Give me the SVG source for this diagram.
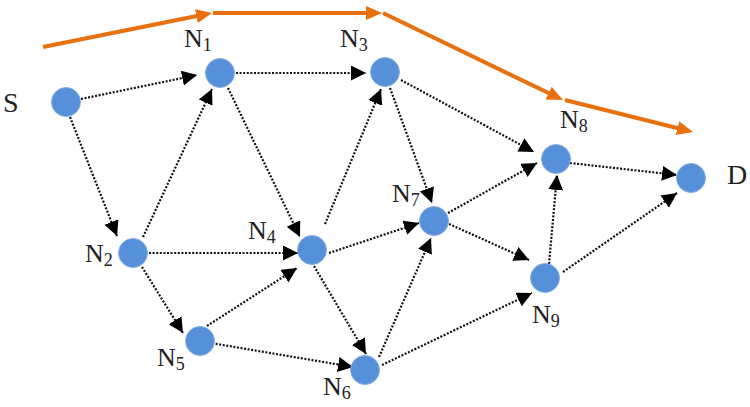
<svg xmlns="http://www.w3.org/2000/svg" width="750" height="407" viewBox="0 0 750 407">
<style>
.node{fill:#5590D9;stroke:#86AEE6;stroke-width:1}
.edge{fill:none;stroke:#111;stroke-width:2.2;stroke-dasharray:2 1.6;marker-end:url(#ah)}
.path{fill:none;stroke:#E8700F;stroke-width:4;marker-end:url(#oh)}
.lbl{font-family:"Liberation Serif","Times New Roman",serif;font-size:26px;fill:#222}
.sub{font-size:18px}
.big{font-family:"Liberation Serif","Times New Roman",serif;font-size:28px;fill:#222}
</style>
<defs>
<marker id="ah" markerUnits="userSpaceOnUse" markerWidth="16" markerHeight="16" refX="15" refY="7.5" orient="auto" viewBox="0 0 16 16">
<path d="M0,0 L15,7.5 L0,15 z" fill="#000"/>
</marker>
<marker id="oh" markerUnits="userSpaceOnUse" markerWidth="18" markerHeight="16" refX="12" refY="7" orient="auto" viewBox="0 0 18 16">
<path d="M0,0 L16,7 L0,14 z" fill="#E8700F"/>
</marker>
</defs>
<rect width="750" height="407" fill="#fff"/>
<g id="connectors">
<line class="edge" x1="81" y1="99" x2="197" y2="75"/>
<line class="edge" x1="70" y1="117" x2="117" y2="236"/>
<line class="edge" x1="143" y1="237" x2="212" y2="89"/>
<line class="edge" x1="236" y1="73" x2="366" y2="73"/>
<line class="edge" x1="228" y1="88" x2="300" y2="237"/>
<line class="edge" x1="325" y1="224" x2="381" y2="89"/>
<line class="edge" x1="390" y1="88" x2="432" y2="203"/>
<line class="edge" x1="401" y1="80" x2="534" y2="152"/>
<line class="edge" x1="149" y1="253" x2="298" y2="253"/>
<line class="edge" x1="142" y1="267" x2="183" y2="333"/>
<line class="edge" x1="207" y1="326" x2="297" y2="268"/>
<line class="edge" x1="205" y1="342" x2="353" y2="367"/>
<line class="edge" x1="314" y1="266" x2="366" y2="354"/>
<line class="edge" x1="329" y1="253" x2="419" y2="223"/>
<line class="edge" x1="379" y1="357" x2="431" y2="238"/>
<line class="edge" x1="382" y1="365" x2="532" y2="293"/>
<line class="edge" x1="448" y1="213" x2="537" y2="163"/>
<line class="edge" x1="449" y1="224" x2="529" y2="260"/>
<line class="edge" x1="549" y1="264" x2="557" y2="175"/>
<line class="edge" x1="570" y1="163" x2="677" y2="175"/>
<line class="edge" x1="563" y1="272" x2="677" y2="193"/>
<line class="path" x1="43" y1="47" x2="208.1" y2="13.8"/>
<line class="path" x1="213" y1="13" x2="378" y2="13"/>
<line class="path" x1="383" y1="13" x2="559.4" y2="98.3"/>
<line class="path" x1="565" y1="100" x2="689.1" y2="131"/>
</g>
<g id="S"><circle class="node" cx="66" cy="102" r="14.5"/><text class="big" x="3" y="112">S</text></g>
<g id="N1"><circle class="node" cx="220" cy="73" r="14.5"/><text class="lbl" x="184" y="47">N<tspan class="sub" dy="4">1</tspan></text></g>
<g id="N3"><circle class="node" cx="385" cy="72" r="14.5"/><text class="lbl" x="340" y="47">N<tspan class="sub" dy="4">3</tspan></text></g>
<g id="N2"><circle class="node" cx="133" cy="253" r="14.5"/><text class="lbl" x="85" y="262">N<tspan class="sub" dy="4">2</tspan></text></g>
<g id="N4"><circle class="node" cx="312" cy="250" r="14.5"/><text class="lbl" x="248" y="239">N<tspan class="sub" dy="4">4</tspan></text></g>
<g id="N5"><circle class="node" cx="200" cy="341" r="14.5"/><text class="lbl" x="157" y="366">N<tspan class="sub" dy="4">5</tspan></text></g>
<g id="N6"><circle class="node" cx="365" cy="370" r="14.5"/><text class="lbl" x="323" y="395">N<tspan class="sub" dy="4">6</tspan></text></g>
<g id="N7"><circle class="node" cx="434" cy="221" r="14.5"/><text class="lbl" x="392" y="202">N<tspan class="sub" dy="4">7</tspan></text></g>
<g id="N8"><circle class="node" cx="556" cy="159" r="14.5"/><text class="lbl" x="560" y="128">N<tspan class="sub" dy="4">8</tspan></text></g>
<g id="N9"><circle class="node" cx="545" cy="278" r="14.5"/><text class="lbl" x="532" y="323">N<tspan class="sub" dy="4">9</tspan></text></g>
<g id="D"><circle class="node" cx="691" cy="178" r="14.5"/><text class="big" x="727" y="184">D</text></g>
</svg>
